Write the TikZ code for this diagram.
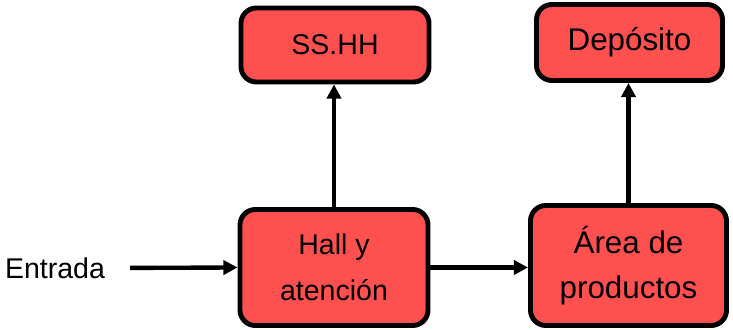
\documentclass[tikz,border=0pt]{standalone}
\usepackage{fontspec}
\setmainfont{Liberation Sans}
\usetikzlibrary{arrows.meta,positioning,shadows}
\definecolor{boxred}{RGB}{255,80,80}

\begin{document}
\begin{tikzpicture}[x=0.025cm,y=-0.025cm,>={Triangle[length=10pt,width=10pt]},
    every node/.style={align=center},
    area/.style={draw,line width=3.5pt,rounded corners=11pt,fill=boxred,
      drop shadow={opacity=0.25,shadow xshift=1.2pt,shadow yshift=-1.2pt}},
    flow/.style={->,line width=3.1pt}]
  \useasboundingbox (0,0) rectangle (733,330);
  \node[area,minimum width=4.7cm,minimum height=1.85cm,font=\fontsize{20.3}{24}\selectfont] (sshh) at (335,45) {SS.HH};
  \node[area,minimum width=4.65cm,minimum height=1.9cm,font=\fontsize{22.3}{26}\selectfont] (deposito) at (629.5,42.5) {Depósito};
  \node[area,minimum width=4.7cm,minimum height=2.9cm,font=\fontsize{20.3}{32.5}\selectfont] (hall) at (334,267.5) {Hall y\\atención};
  \node[area,minimum width=4.9cm,minimum height=3.0cm,font=\fontsize{22.3}{32}\selectfont] (productos) at (628.5,265.5) {Área de\\productos};
  \node[inner sep=0pt,font=\fontsize{20.3}{24}\selectfont] (entrada) at (55,268) {Entrada};
  \draw[flow,shorten <=0.62cm] (entrada.east) -- (hall.west);
  \draw[flow] (hall.east) -- (hall.east -| productos.west);
  \draw[flow] (hall.north) -- (hall.north |- sshh.south);
  \draw[flow] (productos.north) -- (productos.north |- deposito.south);
\end{tikzpicture}
\end{document}
